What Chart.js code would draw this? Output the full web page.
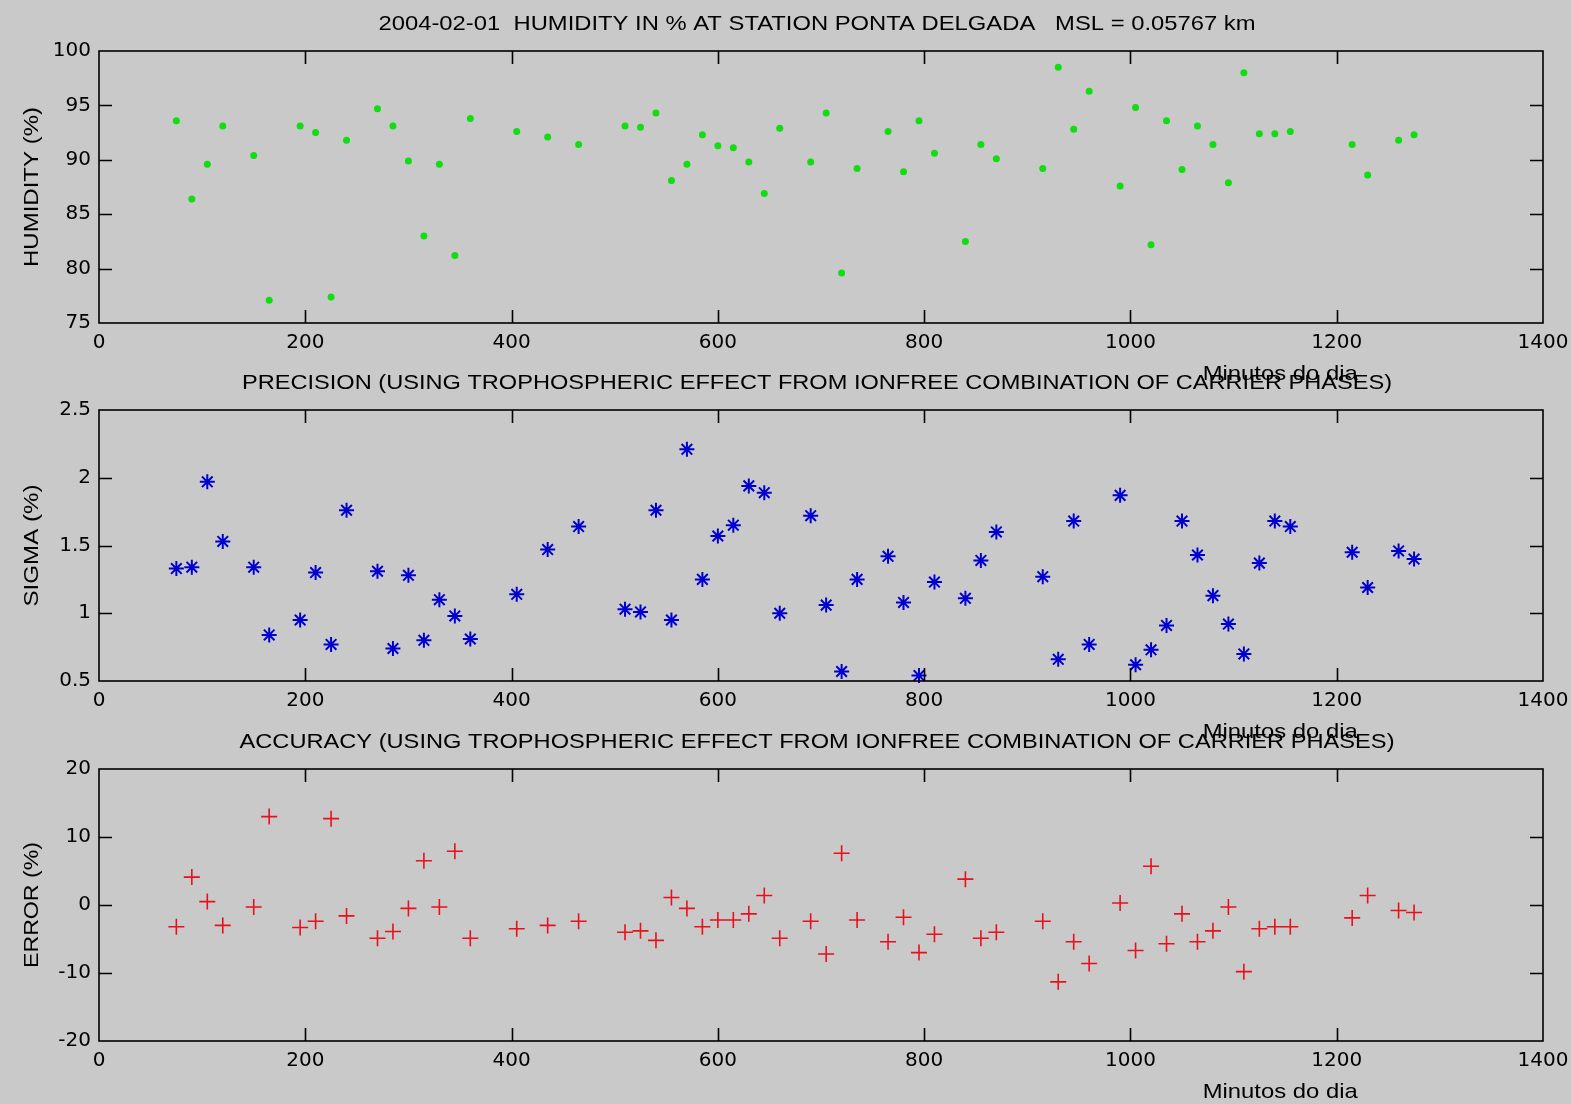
<!DOCTYPE html>
<html>
<head>
<meta charset="utf-8">
<script src="https://cdn.jsdelivr.net/npm/chart.js@4"></script>
<style>
  html, body { margin: 0; padding: 0; background: #c9c9c9; }
  #wrap { position: relative; width: 1571px; height: 1104px; }
  #wrap canvas { position: absolute; left: 0; top: 0; }
</style>
</head>
<body>
<div id="wrap">
  <canvas id="humChart" width="1571" height="1104"></canvas>
  <canvas id="sigChart" width="1571" height="1104"></canvas>
  <canvas id="errChart" width="1571" height="1104"></canvas>
</div>
<script>
// Observation epochs (minutes of the day)
const minutes = [75, 90, 105, 120, 150, 165, 195, 210, 225, 240, 270, 285, 300, 315, 330, 345, 360,
  405, 435, 465, 510, 525, 540, 555, 570, 585, 600, 615, 630, 645, 660, 690, 705, 720, 735,
  765, 780, 795, 810, 840, 855, 870, 915, 930, 945, 960, 990, 1005, 1020, 1035, 1050, 1065,
  1080, 1095, 1110, 1125, 1140, 1155, 1215, 1230, 1260, 1275];

// Relative humidity (%)
const humidity = [93.6, 86.4, 89.6, 93.1, 90.4, 77.1, 93.1, 92.5, 77.4, 91.8,
  94.7, 93.1, 89.9, 83.0, 89.6, 81.2, 93.8, 92.6, 92.1, 91.4,
  93.1, 93.0, 94.3, 88.1, 89.6, 92.3, 91.3, 91.1, 89.8, 86.9,
  92.9, 89.8, 94.3, 79.6, 89.2, 92.6, 88.9, 93.6, 90.6, 82.5,
  91.4, 90.1, 89.2, 98.5, 92.8, 96.3, 87.6, 94.8, 82.2, 93.6,
  89.1, 93.1, 91.4, 87.9, 98.0, 92.4, 92.4, 92.6, 91.4, 88.6,
  91.8, 92.3];

// Precision of the estimate, sigma (%)
const sigma = [1.33, 1.34, 1.97, 1.53, 1.34, 0.84, 0.95, 1.30, 0.77, 1.76,
  1.31, 0.74, 1.28, 0.80, 1.10, 0.98, 0.81, 1.14, 1.47, 1.64,
  1.03, 1.01, 1.76, 0.95, 2.21, 1.25, 1.57, 1.65, 1.94, 1.89,
  1.00, 1.72, 1.06, 0.57, 1.25, 1.42, 1.08, 0.54, 1.23, 1.11,
  1.39, 1.60, 1.27, 0.66, 1.68, 0.77, 1.87, 0.62, 0.73, 0.91,
  1.68, 1.43, 1.13, 0.92, 0.70, 1.37, 1.68, 1.64, 1.45, 1.19,
  1.46, 1.40];

// Accuracy, error against reference (%)
const errorPct = [-3.2, 4.1, 0.5, -3.0, -0.3, 13.0, -3.3, -2.4, 12.7, -1.6,
  -4.9, -3.9, -0.5, 6.5, -0.3, 7.9, -4.9, -3.5, -3.0, -2.4,
  -4.0, -3.8, -5.2, 1.1, -0.5, -3.2, -2.2, -2.2, -1.3, 1.4,
  -4.9, -2.4, -7.2, 7.6, -2.2, -5.4, -1.8, -7.0, -4.3, 3.8,
  -4.9, -4.0, -2.4, -11.3, -5.4, -8.6, 0.3, -6.7, 5.7, -5.7,
  -1.3, -5.4, -3.8, -0.3, -9.8, -3.5, -3.2, -3.2, -1.9, 1.4,
  -0.8, -1.1];

// Axis ranges and tick steps
const xRange = [0, 1400], xStep = 200;
const humRange = [75, 100], humStep = 5;
const sigRange = [0.5, 2.5], sigStep = 0.5;
const errRange = [-20, 20], errStep = 10;

const FONT = "'Liberation Sans', Arial, Helvetica, sans-serif";
const TICK_FONT = "'DejaVu Sans', Verdana, sans-serif";
const PAGE_H = 1104;
const LEFT = 99, RIGHT_PAD = 28;

// Plain number labels, no grouping separators
const plainLabel = v => String(Math.round(v * 100) / 100);

// Draws text squeezed horizontally to a given run length
function drawFitted(ctx, text, x, y, width, angle) {
  ctx.save();
  ctx.translate(x, y);
  ctx.rotate(angle);
  const w = ctx.measureText(text).width;
  ctx.scale(width / w, 1);
  ctx.fillText(text, 0, 0);
  ctx.restore();
}

// Axes box, inward tick marks on all four sides, and the labels
const framePlugin = {
  id: 'frame',
  afterDraw(chart, args, o) {
    const { ctx, chartArea: a, scales } = chart;
    ctx.save();
    ctx.strokeStyle = '#000';
    ctx.lineWidth = 1.6;
    ctx.strokeRect(a.left, a.top, a.right - a.left, a.bottom - a.top);
    ctx.beginPath();
    const tl = 13;
    scales.x.ticks.forEach(t => {
      if (t.value <= scales.x.min || t.value >= scales.x.max) return;
      const p = Math.round(scales.x.getPixelForValue(t.value)) + 0.5;
      ctx.moveTo(p, a.bottom); ctx.lineTo(p, a.bottom - tl);
      ctx.moveTo(p, a.top); ctx.lineTo(p, a.top + tl);
    });
    scales.y.ticks.forEach(t => {
      if (t.value <= scales.y.min || t.value >= scales.y.max) return;
      const p = Math.round(scales.y.getPixelForValue(t.value)) + 0.5;
      ctx.moveTo(a.left, p); ctx.lineTo(a.left + tl, p);
      ctx.moveTo(a.right, p); ctx.lineTo(a.right - tl, p);
    });
    ctx.stroke();

    ctx.fillStyle = '#000';
    ctx.font = '21px ' + FONT;
    ctx.textAlign = 'center';
    ctx.textBaseline = 'middle';
    const cx = (a.left + a.right) / 2 - 4;
    drawFitted(ctx, o.title, cx, a.top - 27, o.titleWidth, 0);
    drawFitted(ctx, o.xlabel, a.left + 0.818 * (a.right - a.left), a.bottom + 51, 155, 0);
    drawFitted(ctx, o.ylabel, 32, (a.top + a.bottom) / 2, o.ylabelWidth, -Math.PI / 2);
    ctx.restore();
  }
};

function makePanel(id, values, range, step, top, bottom, marker, texts) {
  const pts = minutes.map((m, i) => ({ x: m, y: values[i] }));
  return new Chart(document.getElementById(id), {
    type: 'scatter',
    data: { datasets: [Object.assign({ data: pts, clip: false }, marker)] },
    options: {
      responsive: false,
      animation: false,
      events: [],
      layout: { padding: { left: 0, right: RIGHT_PAD, top: top, bottom: 0 } },
      plugins: { legend: { display: false }, tooltip: { enabled: false }, frame: texts },
      scales: {
        x: {
          type: 'linear', min: xRange[0], max: xRange[1],
          grid: { display: false, drawTicks: false }, border: { display: false },
          ticks: { stepSize: xStep, color: '#000', padding: 8, maxRotation: 0,
                   autoSkip: false, font: { family: TICK_FONT, size: 20 },
                   callback: plainLabel },
          afterFit(s) { s.height = PAGE_H - bottom; s.paddingLeft = 0; s.paddingRight = 0; }
        },
        y: {
          type: 'linear', min: range[0], max: range[1],
          grid: { display: false, drawTicks: false }, border: { display: false },
          ticks: { stepSize: step, color: '#000', padding: 8,
                   font: { family: TICK_FONT, size: 20 }, callback: plainLabel },
          afterFit(s) { s.width = LEFT; s.paddingTop = 0; s.paddingBottom = 0; }
        }
      }
    },
    plugins: [framePlugin]
  });
}

makePanel('humChart', humidity, humRange, humStep, 51, 323,
  { pointStyle: 'circle', pointRadius: 3.5, pointBackgroundColor: '#12dc12', pointBorderWidth: 0, showLine: false },
  { title: '2004-02-01  HUMIDITY IN % AT STATION PONTA DELGADA   MSL = 0.05767 km', titleWidth: 877,
    xlabel: 'Minutos do dia', ylabel: 'HUMIDITY (%)', ylabelWidth: 160 });

makePanel('sigChart', sigma, sigRange, sigStep, 410, 681,
  { pointStyle: 'star', pointRadius: 7.5, pointBorderColor: '#0000d0', pointBackgroundColor: '#0000d0', pointBorderWidth: 2, showLine: false },
  { title: 'PRECISION (USING TROPHOSPHERIC EFFECT FROM IONFREE COMBINATION OF CARRIER PHASES)', titleWidth: 1150,
    xlabel: 'Minutos do dia', ylabel: 'SIGMA (%)', ylabelWidth: 122 });

makePanel('errChart', errorPct, errRange, errStep, 769, 1041,
  { pointStyle: 'cross', pointRadius: 8, pointBorderColor: '#e8101c', pointBorderWidth: 1.6, showLine: false },
  { title: 'ACCURACY (USING TROPHOSPHERIC EFFECT FROM IONFREE COMBINATION OF CARRIER PHASES)', titleWidth: 1155,
    xlabel: 'Minutos do dia', ylabel: 'ERROR (%)', ylabelWidth: 126 });
</script>
</body>
</html>
